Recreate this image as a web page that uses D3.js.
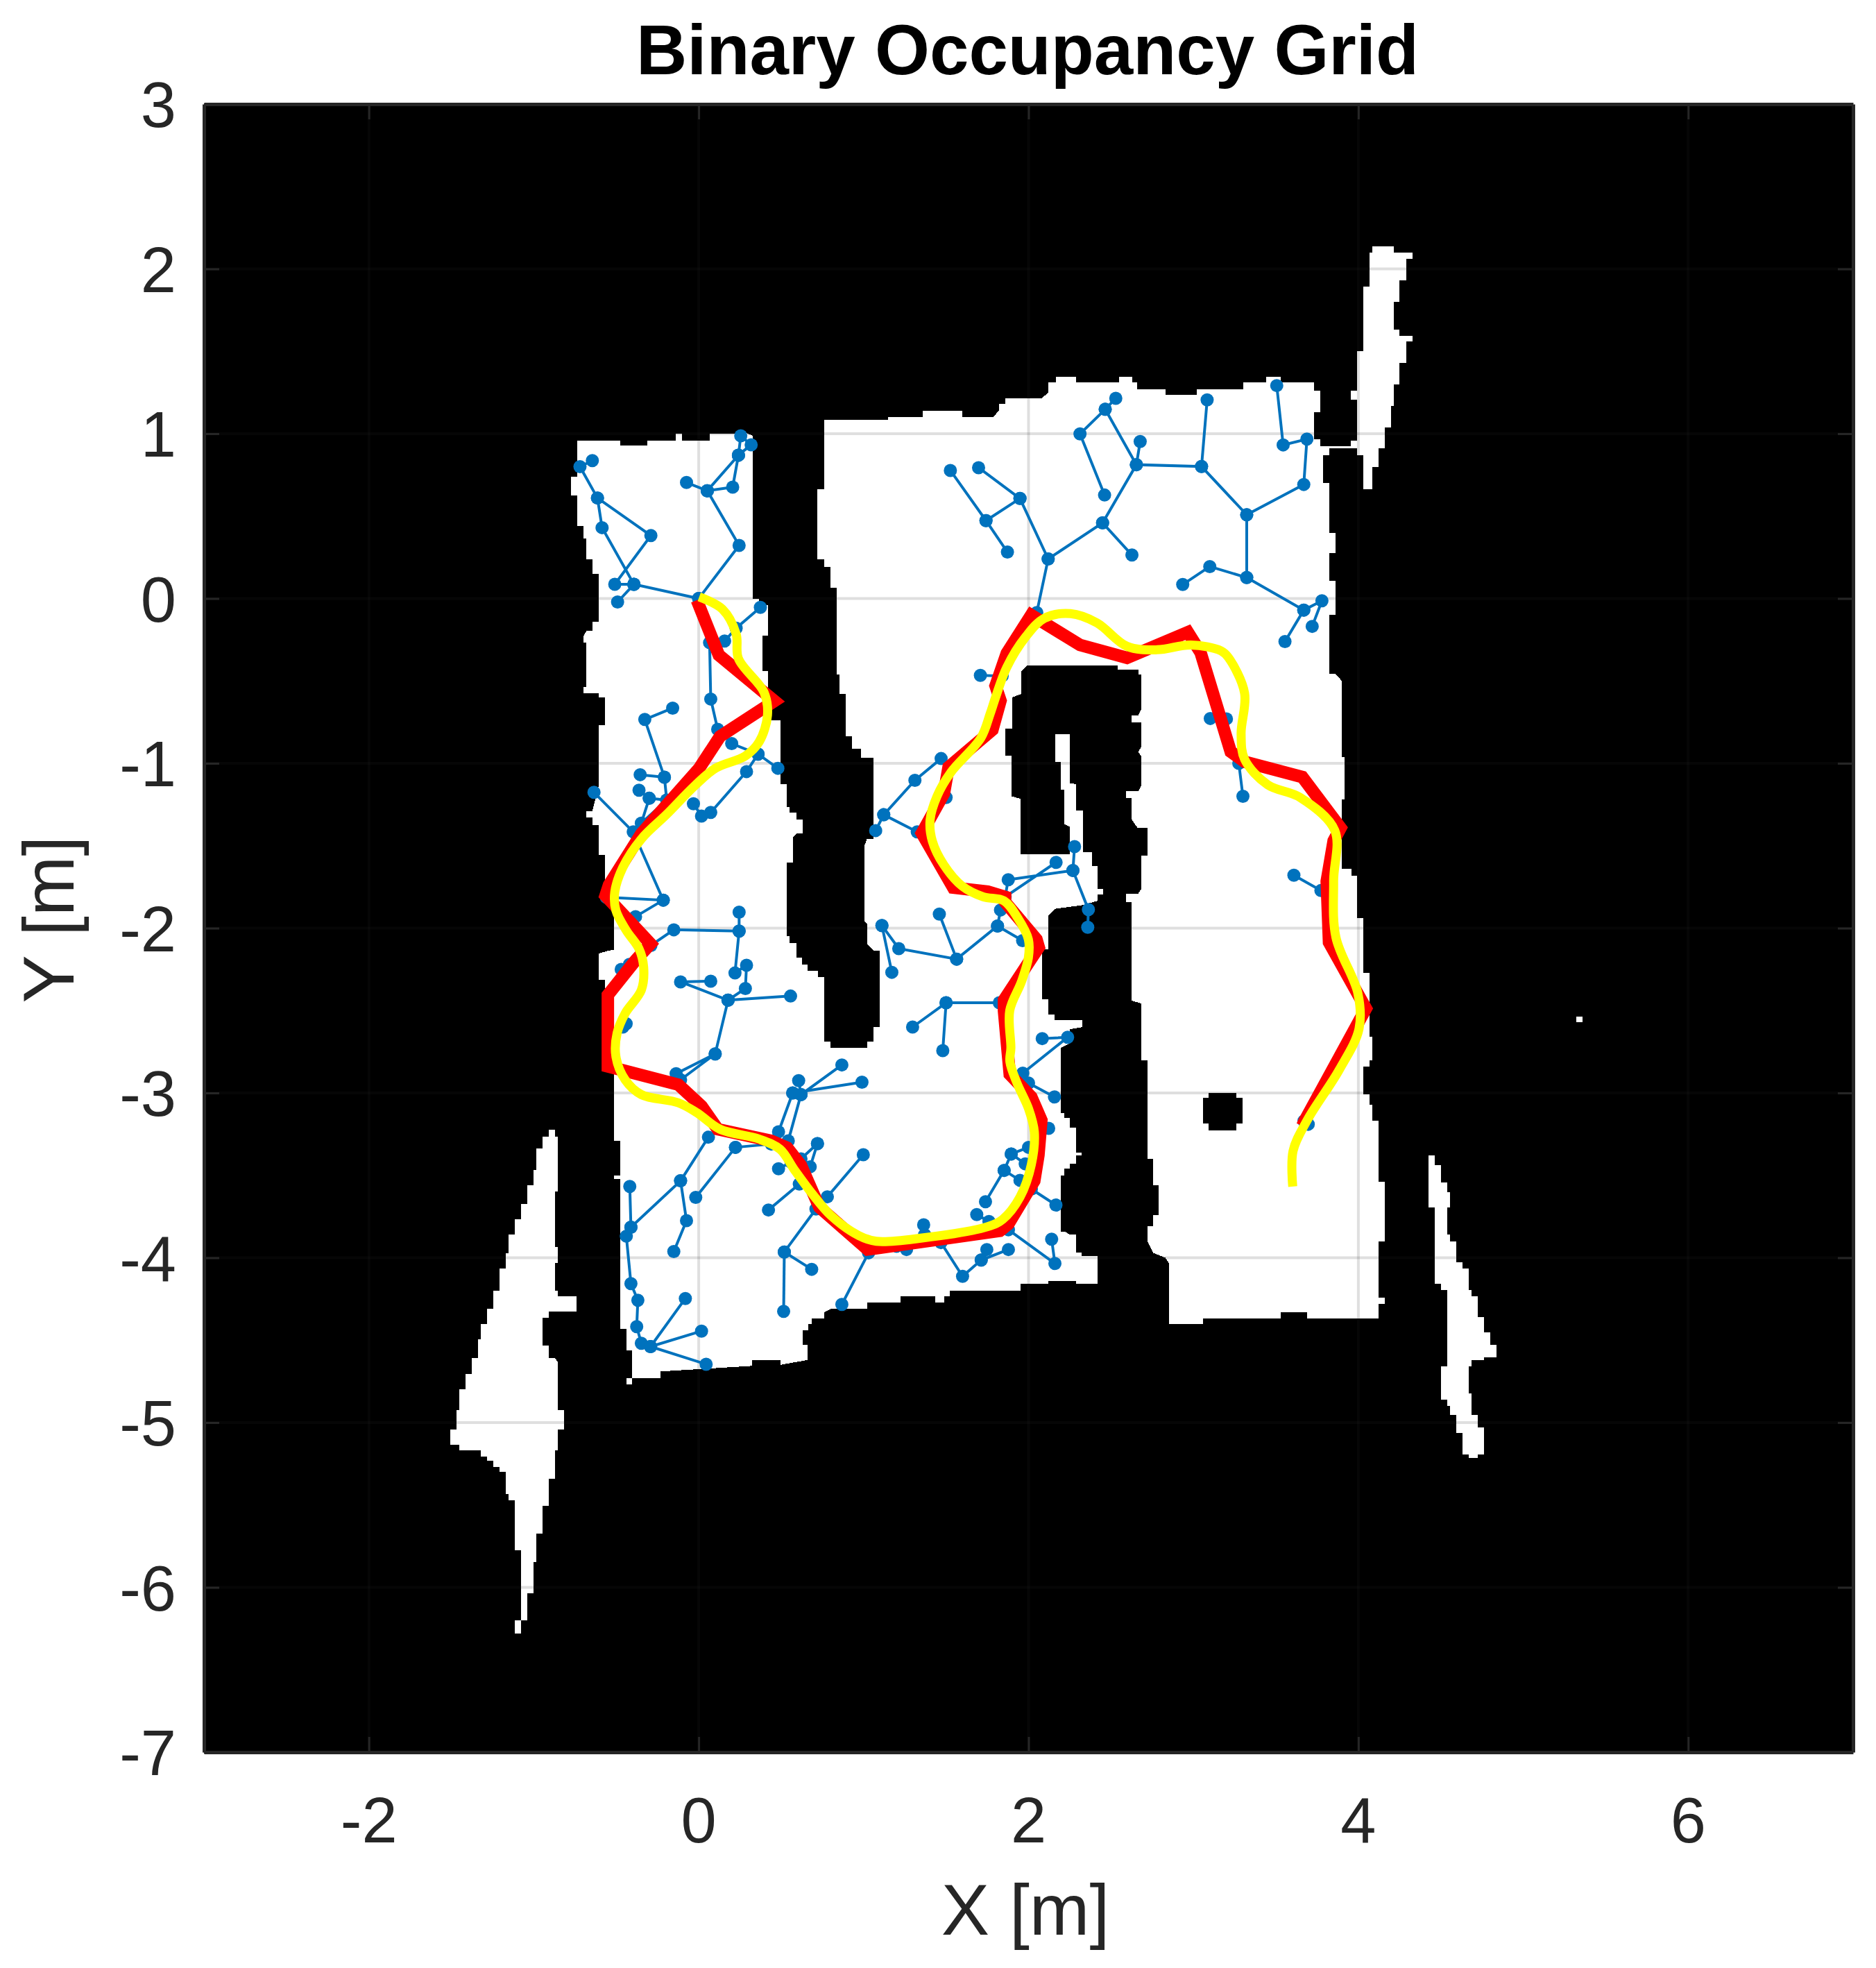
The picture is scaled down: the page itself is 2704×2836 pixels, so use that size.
<!DOCTYPE html>
<html>
<head>
<meta charset="utf-8">
<script src="https://cdn.jsdelivr.net/npm/d3@7"></script>
<style>html,body{margin:0;padding:0;background:#fff}svg{display:block}text{font-family:"Liberation Sans",Arial,sans-serif;fill:#262626}</style>
</head>
<body>
<div id="chart"></div>
<script>
const titleText = "Binary Occupancy Grid";
const xLabel = "X [m]";
const yLabel = "Y [m]";
const xTicks = [-2, 0, 2, 4, 6];
const yTicks = [3, 2, 1, 0, -1, -2, -3, -4, -5, -6, -7];

const freeMain = [[-.738,.96],[-.477,.96],[-.477,.927],[-.31,.927],[-.31,.96],[-.14,.96],[-.14,1.0],[-.1,1.0],[-.1,.96],[.066,.96],[.066,1.0],[.227,1.0],[.255,1.02],[.3,1.0],[.327,.987],
[.327,0],[.365,0],[.365,-.04],[.42,-.04],[.42,-.225],[.385,-.225],[.385,-.44],[.42,-.44],[.42,-.74],[.494,-.74],[.494,-1.127],[.533,-1.127],[.533,-1.266],[.552,-1.266],[.552,-1.3],[.592,-1.3],[.592,-1.34],[.63,-1.34],[.63,-1.427],[.592,-1.427],[.57,-1.45],[.57,-1.6],[.533,-1.6],[.533,-2.05],[.552,-2.05],[.552,-2.09],[.592,-2.09],[.592,-2.18],[.627,-2.18],[.627,-2.22],[.662,-2.22],[.662,-2.26],[.725,-2.26],[.725,-2.296],[.76,-2.296],[.76,-2.688],[.8,-2.688],[.8,-2.728],[1.02,-2.728],[1.02,-2.688],[1.059,-2.688],[1.059,-2.6],[1.097,-2.6],[1.097,-2.135],[1.059,-2.135],[1.02,-2.095],[1.02,-1.974],[1.005,-1.96],[1.005,-1.5],[1.02,-1.46],[1.06,-1.46],[1.06,-.966],[.985,-.966],[.985,-.912],[.93,-.912],[.93,-.837],[.89,-.837],[.89,-.58],[.854,-.58],[.854,-.46],[.836,-.46],[.836,.064],[.8,.064],[.8,.193],[.76,.193],[.76,.236],[.72,.236],[.72,.665],[.76,.665],
[.76,1.083],[1.15,1.083],[1.15,1.10],[1.36,1.10],[1.36,1.14],[1.6,1.14],[1.6,1.10],[1.785,1.10],[1.82,1.14],[1.82,1.18],[1.86,1.18],[1.86,1.215],[2.08,1.215],[2.12,1.25],[2.12,1.31],[2.165,1.31],[2.165,1.345],[2.29,1.345],[2.29,1.31],[2.55,1.31],[2.55,1.345],[2.63,1.345],[2.63,1.31],[2.66,1.31],[2.66,1.27],[2.83,1.27],[2.83,1.235],[3.02,1.235],[3.02,1.27],[3.3,1.27],[3.3,1.31],[3.44,1.31],[3.44,1.345],[3.53,1.345],[3.53,1.31],[3.73,1.31],[3.73,1.26],[3.77,1.26],[3.77,1.13],[3.73,1.13],[3.73,.968],[3.77,.968],[3.77,.91],[3.825,.91],[3.825,.87],[3.785,.87],[3.785,.7],[3.825,.7],[3.825,.40],[3.863,.40],[3.863,.275],[3.825,.275],[3.825,.106],[3.863,.106],[3.863,-.1],[3.825,-.1],[3.825,-.457],[3.86,-.457],[3.9,-.5],[3.9,-.96],[3.917,-.96],[3.917,-1.22],[3.9,-1.22],[3.9,-1.64],[3.96,-1.64],[3.96,-1.68],[3.99,-1.68],[3.99,-1.94],[4.03,-1.94],[4.03,-2.27],[4.067,-2.27],[4.067,-2.66],[4.085,-2.66],[4.085,-2.8],[4.067,-2.8],[4.067,-2.84],[4.03,-2.84],[4.03,-3.01],[4.067,-3.01],[4.067,-3.07],[4.085,-3.07],[4.085,-3.17],[4.123,-3.17],[4.123,-3.54],[4.16,-3.54],[4.16,-3.9],[4.123,-3.9],[4.123,-4.24],[4.16,-4.24],[4.16,-4.28],[4.123,-4.28],[4.123,-4.37],[3.69,-4.37],[3.69,-4.33],[3.53,-4.33],[3.53,-4.37],[3.06,-4.37],[3.06,-4.40],[2.85,-4.40],[2.85,-4.03],[2.83,-4.0],[2.755,-3.97],[2.72,-3.9],[2.72,-3.81],[2.755,-3.81],[2.755,-3.74],[2.79,-3.74],[2.79,-3.56],[2.755,-3.56],[2.755,-3.4],[2.72,-3.4],[2.72,-2.8],[2.685,-2.8],[2.685,-2.457],[2.625,-2.44],[2.625,-1.84],[2.59,-1.84],[2.59,-1.79],[2.665,-1.79],[2.685,-1.76],[2.685,-1.56],[2.72,-1.56],[2.72,-1.39],[2.66,-1.39],[2.625,-1.34],[2.625,-1.21],[2.59,-1.21],[2.59,-1.17],[2.665,-1.17],[2.685,-1.13],[2.685,-.96],[2.665,-.93],[2.685,-.9],[2.685,-.75],[2.625,-.75],[2.625,-.71],[2.665,-.71],[2.685,-.67],[2.685,-.46],[2.665,-.46],[2.665,-.43],[2.54,-.43],[2.54,-.408],[1.99,-.408],[1.954,-.445],[1.954,-.58],[1.9,-.6],[1.9,-.79],[1.86,-.79],[1.86,-.955],[1.898,-.955],[1.898,-1.2],[1.95,-1.215],[1.95,-1.553],[2.25,-1.553],[2.25,-1.384],[2.216,-1.368],[2.216,-1.16],[2.195,-1.16],[2.195,-.99],[2.16,-.99],[2.16,-.825],[2.25,-.825],[2.25,-1.12],[2.29,-1.127],[2.29,-1.288],[2.33,-1.288],[2.33,-1.537],[2.384,-1.537],[2.384,-1.625],[2.42,-1.625],[2.42,-1.76],[2.454,-1.76],[2.454,-1.794],[2.42,-1.794],[2.42,-1.834],[2.33,-1.86],[2.16,-1.883],[2.12,-1.923],[2.12,-2.13],[2.083,-2.13],[2.083,-2.43],[2.12,-2.43],[2.12,-2.526],[2.157,-2.526],[2.157,-2.558],[2.328,-2.558],[2.328,-2.6],[2.25,-2.614],[2.25,-2.7],[2.195,-2.727],[2.197,-2.767],[2.197,-3.12],[2.218,-3.12],[2.218,-3.15],[2.25,-3.15],[2.25,-3.21],[2.287,-3.21],[2.287,-3.36],[2.32,-3.36],[2.32,-3.38],[2.287,-3.38],[2.287,-3.43],[2.25,-3.43],[2.25,-3.46],[2.218,-3.46],[2.218,-3.5],[2.197,-3.5],[2.197,-3.84],[2.218,-3.84],[2.25,-3.86],[2.287,-3.86],[2.287,-3.97],[2.32,-3.97],[2.32,-3.99],[2.418,-3.99],[2.418,-4.156],[2.287,-4.156],[2.287,-4.14],[2.12,-4.14],[2.12,-4.156],[1.953,-4.156],[1.953,-4.2],[1.524,-4.2],[1.524,-4.233],[1.488,-4.233],[1.488,-4.27],[1.434,-4.27],[1.434,-4.233],[1.225,-4.233],[1.225,-4.27],[1.02,-4.27],[1.02,-4.31],[.8,-4.31],[.76,-4.33],[.76,-4.37],[.685,-4.37],[.685,-4.4],[.664,-4.4],[.664,-4.44],[.632,-4.44],[.632,-4.53],[.662,-4.53],[.662,-4.62],[.494,-4.65],[.494,-4.62],[.325,-4.62],[.325,-4.656],[-.233,-4.69],[-.233,-4.73],[-.404,-4.73],[-.404,-4.767],[-.44,-4.767],[-.44,-4.73],[-.404,-4.73],[-.404,-4.563],[-.44,-4.563],[-.44,-4.433],[-.477,-4.433],[-.477,-3.52],[-.513,-3.52],[-.513,-3.5],[-.477,-3.5],[-.477,-3.29],[-.513,-3.29],[-.513,-2.42],[-.57,-2.36],[-.57,-2.315],[-.607,-2.315],[-.607,-2.155],[-.56,-2.14],[-.513,-2.13],[-.513,-1.83],[-.57,-1.78],[-.57,-1.556],[-.607,-1.556],[-.607,-1.373],[-.645,-1.373],[-.645,-1.33],[-.684,-1.33],[-.684,-1.29],[-.645,-1.29],[-.607,-1.137],[-.607,-.77],[-.57,-.77],[-.57,-.6],[-.607,-.6],[-.607,-.573],[-.7,-.573],[-.7,-.536],[-.68,-.536],[-.68,-.268],[-.7,-.268],[-.7,-.23],[-.68,-.197],[-.645,-.197],[-.645,-.14],[-.607,-.14],[-.607,.15],[-.645,.15],[-.645,.236],[-.68,.236],[-.68,.365],[-.7,.365],[-.7,.44],[-.738,.44],[-.738,.627],[-.776,.627],[-.776,.74],[-.738,.74]];

const freeSpike = [[4.084,2.137],[4.215,2.137],[4.215,2.1],[4.33,2.1],[4.33,2.06],[4.29,2.06],[4.29,1.93],[4.25,1.93],[4.25,1.80],[4.215,1.80],[4.215,1.63],[4.25,1.63],[4.25,1.594],[4.33,1.594],[4.33,1.558],[4.29,1.558],[4.29,1.43],[4.25,1.43],[4.25,1.30],[4.215,1.30],[4.215,1.168],[4.198,1.168],[4.198,1.04],[4.16,1.04],[4.16,.91],[4.122,.91],[4.122,.796],[4.084,.796],[4.084,.665],[4.03,.665],[4.03,.87],[3.99,.87],[3.99,.91],[3.76,.91],[3.76,.926],[3.954,.926],[3.954,.96],[3.99,.96],[3.99,1.205],[3.954,1.205],[3.954,1.26],[3.99,1.26],[3.99,1.503],[4.03,1.503],[4.03,1.894],[4.067,1.894],[4.067,2.1],[4.084,2.1]];

const freeLeftWedge = [[-.91,-3.224],[-.872,-3.224],[-.872,-3.264],[-.855,-3.264],[-.855,-3.597],[-.872,-3.597],[-.872,-3.935],[-.855,-3.935],[-.855,-4.03],[-.872,-4.03],[-.872,-4.2],[-.855,-4.2],[-.855,-4.234],[-.741,-4.234],[-.741,-4.327],[-.91,-4.327],[-.91,-4.365],[-.947,-4.365],[-.947,-4.534],[-.91,-4.534],[-.91,-4.61],[-.872,-4.61],[-.855,-4.63],[-.855,-4.925],[-.817,-4.925],[-.817,-5.04],[-.855,-5.04],[-.855,-5.17],[-.872,-5.17],[-.872,-5.34],[-.91,-5.34],[-.91,-5.506],[-.947,-5.506],[-.947,-5.675],[-.985,-5.675],[-.985,-5.845],[-1.0,-5.845],[-1.0,-6.034],[-1.04,-6.034],[-1.04,-6.2],[-1.078,-6.2],[-1.078,-6.278],[-1.116,-6.278],[-1.116,-6.2],[-1.078,-6.2],[-1.078,-5.774],[-1.116,-5.774],[-1.116,-5.47],[-1.154,-5.47],[-1.154,-5.435],[-1.17,-5.435],[-1.17,-5.3],[-1.208,-5.3],[-1.208,-5.268],[-1.246,-5.268],[-1.246,-5.23],[-1.284,-5.23],[-1.284,-5.206],[-1.322,-5.206],[-1.322,-5.17],[-1.453,-5.17],[-1.453,-5.133],[-1.507,-5.133],[-1.507,-5.04],[-1.47,-5.04],[-1.47,-4.925],[-1.453,-4.925],[-1.453,-4.796],[-1.415,-4.796],[-1.415,-4.704],[-1.377,-4.704],[-1.377,-4.61],[-1.339,-4.61],[-1.339,-4.496],[-1.322,-4.496],[-1.322,-4.403],[-1.284,-4.403],[-1.284,-4.31],[-1.246,-4.31],[-1.246,-4.198],[-1.208,-4.198],[-1.208,-4.067],[-1.17,-4.067],[-1.17,-3.974],[-1.154,-3.974],[-1.154,-3.859],[-1.116,-3.859],[-1.116,-3.766],[-1.078,-3.766],[-1.078,-3.673],[-1.04,-3.673],[-1.04,-3.56],[-1.0,-3.56],[-1.0,-3.468],[-.985,-3.468],[-.985,-3.337],[-.947,-3.337],[-.947,-3.264],[-.91,-3.264]];

const freeRightWedge = [[4.426,-3.378],[4.463,-3.378],[4.463,-3.436],[4.5,-3.436],[4.5,-3.544],[4.539,-3.544],[4.539,-3.6],[4.556,-3.6],[4.556,-3.694],[4.539,-3.694],[4.539,-3.861],[4.556,-3.861],[4.556,-3.9],[4.594,-3.9],[4.594,-4.028],[4.632,-4.028],[4.632,-4.065],[4.67,-4.065],[4.67,-4.194],[4.687,-4.194],[4.687,-4.232],[4.724,-4.232],[4.724,-4.36],[4.762,-4.36],[4.762,-4.453],[4.8,-4.453],[4.8,-4.528],[4.838,-4.528],[4.838,-4.603],[4.762,-4.603],[4.762,-4.62],[4.687,-4.62],[4.687,-4.657],[4.67,-4.657],[4.67,-4.824],[4.687,-4.824],[4.687,-4.953],[4.724,-4.953],[4.724,-5.028],[4.762,-5.028],[4.762,-5.194],[4.724,-5.194],[4.724,-5.215],[4.67,-5.215],[4.67,-5.194],[4.632,-5.194],[4.632,-5.065],[4.594,-5.065],[4.594,-4.953],[4.556,-4.953],[4.556,-4.9],[4.539,-4.9],[4.539,-4.861],[4.5,-4.861],[4.5,-4.657],[4.539,-4.657],[4.539,-4.194],[4.5,-4.194],[4.5,-4.157],[4.463,-4.157],[4.463,-3.694],[4.426,-3.694]];

const freeSpeck = [[5.32,-2.535],[5.36,-2.535],[5.36,-2.57],[5.32,-2.57]];

const occupiedPost = [[3.09,-3.0],[3.262,-3.0],[3.262,-3.03],[3.296,-3.03],[3.296,-3.187],[3.262,-3.187],[3.262,-3.228],[3.09,-3.228],[3.09,-3.187],[3.056,-3.187],[3.056,-3.03],[3.09,-3.03]];

const treeBranches = [
[[0,0],[-.393,.086],[-.586,.43],[-.614,.61],[-.72,.8],[-.645,.837]],
[[-.614,.61],[-.29,.382],[-.509,.086],[-.393,.086]],
[[-.393,.086],[-.492,-.021]],
[[0,0],[.245,.322],[.052,.654],[-.074,.704]],
[[.052,.654],[.206,.676],[.241,.87],[.052,.654]],
[[.241,.87],[.255,.987],[.318,.933],[.241,.87]],
[[.374,-.054],[.227,-.18],[.157,-.258]],
[[0,0],[.066,-.268],[.073,-.61],[.115,-.794],[.2,-.88],[.36,-.944],[.48,-1.03]],
[[.36,-.944],[.29,-1.05],[.073,-1.298],[.017,-1.32],[-.032,-1.245]],
[[-.158,-.665],[-.327,-.734],[-.208,-1.084],[-.355,-1.069]],
[[-.208,-1.084],[-.194,-1.223],[-.3,-1.212],[-.362,-1.163]],
[[-.3,-1.212],[-.348,-1.363],[-.194,-1.223]],
[[-.635,-1.176],[-.397,-1.416],[-.215,-1.83],[-.56,-1.813]],
[[-.215,-1.83],[-.383,-1.93]],
[[.245,-1.903],[.245,-2.018],[-.151,-2.01],[-.29,-2.105]],
[[.245,-2.018],[.22,-2.272],[.29,-2.225],[.283,-2.366],[.178,-2.437],[.557,-2.412]],
[[.178,-2.437],[-.11,-2.326],[.073,-2.322]],
[[.178,-2.437],[.1,-2.763],[-.137,-2.883],[-.11,-2.92],[.1,-2.763]],
[[-.47,-2.25],[-.42,-2.22]],
[[-.46,-2.6],[-.44,-2.58]],
[[.606,-2.925],[.62,-3.01],[.868,-2.83]],
[[.62,-3.01],[.57,-3.0],[.99,-2.935]],
[[.62,-3.01],[.543,-3.29]],
[[.57,-3.0],[.484,-3.236]],
[[.72,-3.307],[.62,-3.4]],
[[.72,-3.307],[.676,-3.448]],
[[.484,-3.46],[.56,-3.42]],
[[.998,-3.375],[.78,-3.63]],
[[.423,-3.71],[.61,-3.553]],
[[.711,-3.704],[.519,-3.965],[.685,-4.07]],
[[.519,-3.965],[.515,-4.325]],
[[1.03,-3.97],[.868,-4.283]],
[[.059,-3.268],[-.11,-3.533],[-.411,-3.815],[-.418,-3.567]],
[[.223,-3.33],[-.018,-3.634]],
[[.223,-3.33],[.44,-3.31]],
[[-.11,-3.533],[-.074,-3.775],[-.151,-3.962]],
[[-.411,-3.815],[-.439,-3.869],[-.411,-4.157],[-.369,-4.258],[-.376,-4.418],[-.348,-4.519],[-.292,-4.539],[-.081,-4.247]],
[[-.292,-4.539],[.017,-4.445]],
[[-.292,-4.539],[.045,-4.646]],
[[1.364,-3.8],[1.37,-3.86]],
[[1.26,-3.95],[1.2,-3.93]],
[[1.469,-3.908],[1.6,-4.113],[1.713,-4.014],[1.878,-3.95]],
[[1.713,-4.014],[1.747,-3.95]],
[[1.686,-3.738],[1.76,-3.78]],
[[1.739,-3.66],[1.852,-3.47],[1.895,-3.37],[2.0,-3.33]],
[[1.852,-3.47],[1.948,-3.53]],
[[1.895,-3.37],[1.98,-3.43]],
[[2.017,-3.583],[2.166,-3.68]],
[[2.122,-3.215],[2.06,-3.215]],
[[1.878,-3.83],[2.16,-4.035],[2.14,-3.887]],
[[2.157,-3.024],[2.0,-2.94]],
[[1.965,-2.88],[2.237,-2.662],[2.083,-2.67]],
[[1.297,-2.6],[1.5,-2.453],[1.48,-2.743]],
[[1.5,-2.453],[1.823,-2.453]],
[[1.111,-1.984],[1.213,-2.124],[1.564,-2.188],[1.812,-1.987],[1.83,-1.89]],
[[1.111,-1.984],[1.171,-2.268]],
[[1.459,-1.915],[1.564,-2.188]],
[[1.812,-1.987],[1.964,-2.076]],
[[1.47,-.971],[1.311,-1.103],[1.122,-1.312],[1.073,-1.408]],
[[1.122,-1.312],[1.325,-1.416]],
[[1.5,-1.207],[1.48,-1.18]],
[[2.279,-1.505],[2.269,-1.65],[1.877,-1.706],[1.858,-1.81],[2.167,-1.601]],
[[2.269,-1.65],[2.363,-1.887],[2.359,-1.995]],
[[1.708,-.466],[1.84,-.47]],
[[2.05,-.085],[2.119,.24],[2.449,.459],[2.654,.812],[3.049,.801],[3.323,.508],[3.669,.692],[3.688,.967],[3.544,.932],[3.505,1.292]],
[[2.119,.24],[1.948,.607],[1.742,.473],[1.526,.777]],
[[1.742,.473],[1.872,.282]],
[[1.948,.607],[1.697,.794]],
[[2.449,.459],[2.627,.264]],
[[2.654,.812],[2.677,.953]],
[[2.654,.812],[2.465,1.148],[2.529,1.215]],
[[2.465,1.148],[2.312,.999],[2.461,.628]],
[[3.049,.801],[3.083,1.205]],
[[3.323,.508],[3.323,.127],[3.099,.194],[2.935,.085]],
[[3.323,.127],[3.669,-.07],[3.779,-.014],[3.72,-.169]],
[[3.669,-.07],[3.555,-.261]],
[[3.102,-.728],[3.2,-.73]],
[[3.275,-1.0],[3.3,-1.2]],
[[3.609,-1.679],[3.773,-1.772]],
[[3.696,-3.19],[3.67,-3.17]]
];

const redPath = [[-.011,-.01],[.122,-.343],[.459,-.622],[.129,-.837],[.003,-1.03],[-.348,-1.427],[-.544,-1.738],[-.565,-1.803],[-.292,-2.095],[-.383,-2.195],[-.551,-2.406],[-.551,-2.839],[-.123,-2.95],[.017,-3.08],[.115,-3.22],[.438,-3.29],[.536,-3.332],[.62,-3.44],[.732,-3.694],[1.024,-3.95],[1.826,-3.837],[1.878,-3.795],[2.035,-3.533],[2.06,-3.378],[2.078,-3.165],[2.017,-3.024],[1.886,-2.887],[1.851,-2.5],[1.851,-2.437],[2.062,-2.116],[2.048,-2.068],[1.858,-1.842],[1.858,-1.81],[1.753,-1.778],[1.543,-1.754],[1.353,-1.424],[1.487,-1.183],[1.515,-1.023],[1.781,-.797],[1.83,-.62],[1.8,-.53],[1.868,-.332],[2.016,-.1],[2.312,-.282],[2.597,-.36],[2.966,-.204],[3.043,-.327],[3.226,-.929],[3.31,-.99],[3.66,-1.083],[3.892,-1.392],[3.85,-1.47],[3.808,-1.716],[3.822,-2.086],[4.046,-2.488],[3.675,-3.167],[3.66,-3.2]];

const yellowPath = [[.003,.01],[.143,-.064],[.227,-.215],[.241,-.365],[.396,-.569],[.417,-.708],[.367,-.869],[.283,-.955],[.101,-1.03],[-.025,-1.137],[-.194,-1.309],[-.348,-1.459],[-.46,-1.631],[-.509,-1.781],[-.502,-1.893],[-.439,-2.014],[-.362,-2.125],[-.334,-2.235],[-.348,-2.376],[-.446,-2.517],[-.495,-2.638],[-.502,-2.779],[-.446,-2.92],[-.348,-3.01],[-.123,-3.06],[-.011,-3.12],[.129,-3.22],[.367,-3.28],[.494,-3.342],[.578,-3.463],[.69,-3.614],[.802,-3.744],[.97,-3.865],[1.077,-3.9],[1.355,-3.88],[1.756,-3.81],[1.843,-3.767],[1.948,-3.632],[2.017,-3.434],[2.035,-3.236],[2.0,-3.095],[1.93,-2.94],[1.887,-2.81],[1.893,-2.727],[1.886,-2.5],[1.957,-2.325],[1.999,-2.18],[1.999,-2.068],[1.935,-1.939],[1.851,-1.834],[1.725,-1.81],[1.599,-1.746],[1.487,-1.617],[1.417,-1.473],[1.403,-1.344],[1.445,-1.2],[1.529,-1.055],[1.711,-.846],[1.767,-.7],[1.8,-.6],[1.868,-.417],[1.982,-.233],[2.096,-.12],[2.255,-.092],[2.415,-.148],[2.597,-.29],[2.78,-.311],[2.985,-.282],[3.168,-.318],[3.212,-.358],[3.31,-.574],[3.289,-.821],[3.31,-.975],[3.45,-1.13],[3.647,-1.207],[3.857,-1.407],[3.85,-1.716],[3.864,-2.056],[3.997,-2.395],[4.004,-2.611],[3.885,-2.858],[3.689,-3.167],[3.604,-3.352],[3.602,-3.568]];

const W = 2704, H = 2836;
const x = d3.scaleLinear().domain([-3, 7]).range([294, 2671]);
const y = d3.scaleLinear().domain([3, -7]).range([150, 2525]);

const svg = d3.select("#chart").append("svg").attr("width", W).attr("height", H).attr("viewBox", `0 0 ${W} ${H}`);
svg.append("rect").attr("width", W).attr("height", H).attr("fill", "#fff");

// occupancy image
svg.append("rect").attr("x", x(-3)).attr("y", y(3)).attr("width", x(7) - x(-3)).attr("height", y(-7) - y(3)).attr("fill", "#000");
const poly = d3.line().x(d => x(d[0])).y(d => y(d[1])).curve(d3.curveLinearClosed);
svg.append("g").attr("shape-rendering", "crispEdges").selectAll("path")
  .data([freeMain, freeSpike, freeLeftWedge, freeRightWedge, freeSpeck]).join("path")
  .attr("d", poly).attr("fill", "#fff");
svg.append("path").attr("shape-rendering", "crispEdges").attr("d", poly(occupiedPost)).attr("fill", "#000");

// grid
const grid = svg.append("g").attr("stroke", "rgb(38,38,38)").attr("stroke-opacity", 0.15).attr("stroke-width", 4);
grid.selectAll(".gx").data(xTicks).join("line").attr("x1", d => x(d)).attr("x2", d => x(d)).attr("y1", y(3)).attr("y2", y(-7));
grid.selectAll(".gy").data(yTicks.filter(d => d < 3 && d > -7)).join("line").attr("x1", x(-3)).attr("x2", x(7)).attr("y1", d => y(d)).attr("y2", d => y(d));

// tree
const open = d3.line().x(d => x(d[0])).y(d => y(d[1]));
const tree = svg.append("g");
tree.selectAll("path").data(treeBranches).join("path").attr("d", open).attr("fill", "none").attr("stroke", "#0072BD").attr("stroke-width", 4);
tree.selectAll("circle").data(treeBranches.flat()).join("circle")
  .attr("cx", d => x(d[0])).attr("cy", d => y(d[1])).attr("r", 9.5).attr("fill", "#0072BD");

// paths
svg.append("path").attr("d", open(redPath)).attr("fill", "none").attr("stroke", "#ff0000").attr("stroke-width", 18).attr("stroke-linejoin", "miter").attr("stroke-miterlimit", 3);
svg.append("path").attr("d", open.curve(d3.curveCatmullRom)(yellowPath)).attr("fill", "none").attr("stroke", "#ffff00").attr("stroke-width", 13).attr("stroke-linejoin", "round");

// axes
const tickStyle = g => { g.selectAll(".domain").attr("stroke", "#262626").attr("stroke-width", 5); g.selectAll(".tick line").attr("stroke", "#262626").attr("stroke-width", 3); g.selectAll("text").remove(); };
svg.append("g").attr("transform", `translate(0,${y(-7)})`).call(d3.axisBottom(x).tickValues(xTicks).tickSizeInner(-22).tickSizeOuter(0)).call(tickStyle);
svg.append("g").attr("transform", `translate(0,${y(3)})`).call(d3.axisTop(x).tickValues(xTicks).tickSizeInner(-22).tickSizeOuter(0)).call(tickStyle);
svg.append("g").attr("transform", `translate(${x(-3)},0)`).call(d3.axisLeft(y).tickValues(yTicks).tickSizeInner(-22).tickSizeOuter(0)).call(tickStyle);
svg.append("g").attr("transform", `translate(${x(7)},0)`).call(d3.axisRight(y).tickValues(yTicks).tickSizeInner(-22).tickSizeOuter(0)).call(tickStyle);

// labels
const fs = 92;
svg.append("g").selectAll("text").data(xTicks).join("text").attr("x", d => x(d)).attr("y", 2655).attr("text-anchor", "middle").attr("font-size", fs).text(d => d);
svg.append("g").selectAll("text").data(yTicks).join("text").attr("x", 254).attr("y", d => y(d) + 33).attr("text-anchor", "end").attr("font-size", fs).text(d => d);
svg.append("text").attr("x", 1478).attr("y", 2788).attr("text-anchor", "middle").attr("font-size", 104).text(xLabel);
svg.append("text").attr("transform", "translate(106,1325) rotate(-90)").attr("text-anchor", "middle").attr("font-size", 104).text(yLabel);
svg.append("text").attr("x", 1481).attr("y", 107).attr("text-anchor", "middle").attr("font-size", 101.5).attr("font-weight", "bold").style("fill", "#000").text(titleText);
</script>
</body>
</html>
